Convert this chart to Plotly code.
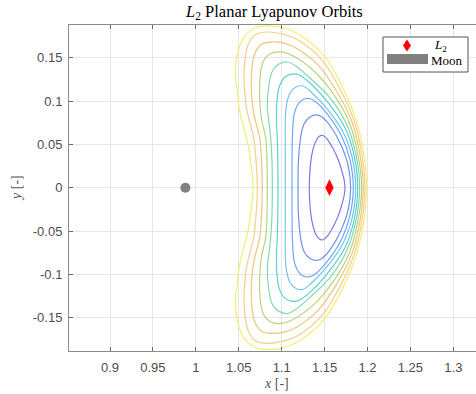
import plotly.graph_objects as go

# ---------------- data (upper halves, from right crossing over the top to left crossing) ----------
orbit1_x = [1.1738, 1.1728, 1.1700, 1.1656, 1.1600, 1.1535, 1.1482, 1.1435, 1.1395, 1.1362, 1.1338,
            1.1326, 1.1322]
orbit1_y = [0.0, 0.0090, 0.0200, 0.0331, 0.0450, 0.0555, 0.0602, 0.0590, 0.0530, 0.0430, 0.0290,
            0.0140, 0.0]

orbit2_x = [1.1804, 1.1773, 1.1691, 1.1575, 1.1470, 1.1400, 1.1330, 1.1260, 1.1220, 1.1196, 1.1190]
orbit2_y = [0.0, 0.0262, 0.0493, 0.0700, 0.0816, 0.0839, 0.0816, 0.0735, 0.0573, 0.0320, 0.0]

orbit3_x = [1.1835, 1.1796, 1.1703, 1.1540, 1.1400, 1.1319, 1.1237, 1.1179, 1.1144, 1.1126, 1.1121, 1.1121]
orbit3_y = [0.0, 0.0320, 0.0585, 0.0839, 0.0989, 0.1029, 0.1012, 0.0943, 0.0839, 0.0608, 0.0320, 0.0]

orbit4_x = [1.1863, 1.1820, 1.1715, 1.1540, 1.1354, 1.1249, 1.1167, 1.1097, 1.1056, 1.1042, 1.1042, 1.1042]
orbit4_y = [0.0, 0.0354, 0.0643, 0.0897, 0.1093, 0.1173, 0.1162, 0.1093, 0.0954, 0.0781, 0.0435, 0.0]

orbit5_x = [1.1886, 1.1843, 1.1738, 1.1552, 1.1354, 1.1202, 1.1132, 1.1039, 1.0975, 1.0946, 1.0940,
            1.0949, 1.0955, 1.0957]
orbit5_y = [0.0, 0.0377, 0.0689, 0.0966, 0.1185, 0.1300, 0.1312, 0.1277, 0.1173, 0.1012, 0.0804,
            0.0550, 0.0320, 0.0]

orbit6_x = [1.1909, 1.1866, 1.1761, 1.1575, 1.1354, 1.1179, 1.1074, 1.0969, 1.0887, 1.0847, 1.0833,
            1.0849, 1.0872, 1.0887, 1.0891]
orbit6_y = [0.0, 0.0377, 0.0723, 0.1023, 0.1243, 0.1393, 0.1450, 0.1427, 0.1335, 0.1150, 0.0920,
            0.0781, 0.0573, 0.0320, 0.0]

orbit7_x = [1.1933, 1.1889, 1.1790, 1.1610, 1.1388, 1.1155, 1.0992, 1.0864, 1.0783, 1.0748, 1.0744,
            1.0763, 1.0814, 1.0829, 1.0833]
orbit7_y = [0.0, 0.0377, 0.0747, 0.1070, 0.1335, 0.1508, 0.1566, 0.1543, 0.1450, 0.1266, 0.1035,
            0.0804, 0.0573, 0.0320, 0.0]

orbit8_x = [1.1951, 1.1913, 1.1820, 1.1645, 1.1423, 1.1167, 1.1016, 1.0887, 1.0771, 1.0689, 1.0654,
            1.0646, 1.0660, 1.0686, 1.0744, 1.0765, 1.0774]
orbit8_y = [0.0, 0.0377, 0.0758, 0.1104, 0.1416, 0.1612, 0.1670, 0.1681, 0.1658, 0.1554, 0.1381,
            0.1150, 0.0954, 0.0804, 0.0573, 0.0320, 0.0]

orbit9_x = [1.1971, 1.1936, 1.1849, 1.1686, 1.1470, 1.1190, 1.1004, 1.0829, 1.0689, 1.0608, 1.0573,
            1.0561, 1.0573, 1.0590, 1.0616, 1.0674, 1.0701, 1.0716]
orbit9_y = [0.0, 0.0377, 0.0758, 0.1127, 0.1473, 0.1704, 0.1773, 0.1796, 0.1762, 0.1646, 0.1473,
            0.1266, 0.1070, 0.0920, 0.0804, 0.0573, 0.0320, 0.0]

orbit10_x = [1.1991, 1.1959, 1.1874, 1.1718, 1.1505, 1.1214, 1.1016, 1.0841, 1.0689, 1.0550, 1.0483,
             1.0460, 1.0480, 1.0509, 1.0550, 1.0608, 1.0643, 1.0666]
orbit10_y = [0.0, 0.0374, 0.0758, 0.1142, 0.1508, 0.1762, 0.1848, 0.1866, 0.1843, 0.1719, 0.1528,
             0.1335, 0.1127, 0.0897, 0.0723, 0.0493, 0.0262, 0.0]

orbit_colors = ['#7a78e8', '#7090f0', '#6ea8f4', '#74c4f0', '#5ccfd6',
                '#84d8b0', '#b6d67c', '#f0c47a', '#f6cd8c', '#f4ee6e']

moon_x = [0.98785]
moon_y = [0.0]
l2_x = [1.15568]
l2_y = [0.0]

x_ticks = [0.9, 0.95, 1.0, 1.05, 1.1, 1.15, 1.2, 1.25, 1.3]
x_tick_labels = ['0.9', '0.95', '1', '1.05', '1.1', '1.15', '1.2', '1.25', '1.3']
y_ticks = [-0.15, -0.1, -0.05, 0.0, 0.05, 0.1, 0.15]
y_tick_labels = ['-0.15', '-0.1', '-0.05', '0', '0.05', '0.1', '0.15']

x_range = [0.85223, 1.32642]
y_range = [-0.1884, 0.1877]

# ---------------- figure ----------------
fig = go.Figure()

orbits = [(orbit1_x, orbit1_y), (orbit2_x, orbit2_y), (orbit3_x, orbit3_y), (orbit4_x, orbit4_y),
          (orbit5_x, orbit5_y), (orbit6_x, orbit6_y), (orbit7_x, orbit7_y), (orbit8_x, orbit8_y),
          (orbit9_x, orbit9_y), (orbit10_x, orbit10_y)]

for (ux, uy), col in zip(orbits, orbit_colors):
    # mirror about y = 0 (planar Lyapunov orbits are symmetric)
    xs = list(ux) + list(ux[::-1][1:])
    ys = list(uy) + [-v for v in uy[::-1][1:]]
    fig.add_trace(go.Scatter(x=xs, y=ys, mode='lines',
                             line=dict(color=col, width=1.2, shape='spline', smoothing=1.0),
                             showlegend=False, hoverinfo='skip'))

fig.add_trace(go.Scatter(x=moon_x, y=moon_y, mode='markers',
                         marker=dict(color='#808080', size=10, symbol='circle'),
                         showlegend=False))
fig.add_trace(go.Scatter(x=l2_x, y=l2_y, mode='markers',
                         marker=dict(color='#ff0000', size=12, symbol='diamond-tall'),
                         showlegend=False))

axis_common = dict(showgrid=True, gridcolor='#e6e6e6', gridwidth=1, zeroline=False,
                   showline=True, linecolor='#8a8a8a', linewidth=1,
                   ticks='inside', ticklen=4, tickcolor='#6a6a6a',
                   tickfont=dict(family='Liberation Sans, Arial, sans-serif', size=13, color='#4d4d4d'))

fig.update_xaxes(range=x_range, tickvals=x_ticks, ticktext=x_tick_labels,
                 mirror='ticks', ticklabelstandoff=4, **axis_common)
fig.update_yaxes(range=y_range, tickvals=y_ticks, ticktext=y_tick_labels,
                 mirror=False, ticklabelstandoff=3, **axis_common)

W, H = 476, 394
ml, mr, mt, mb = 69, 0, 25, 43
pw, ph = W - ml - mr, H - mt - mb


def px(xp):
    return (xp - ml) / pw


def py(yp):
    return (H - mb - yp) / ph


serif = 'Liberation Serif, DejaVu Serif, serif'

annotations = [
    dict(text='<i>L</i><sub>2</sub> Planar Lyapunov Orbits', xref='paper', yref='paper',
         x=px(274), y=py(12), xanchor='center', yanchor='middle', showarrow=False,
         font=dict(family=serif, size=16.5, color='#000000')),
    dict(text='<i>x</i> [-]', xref='paper', yref='paper', x=px(276), y=py(383),
         xanchor='center', yanchor='middle', showarrow=False,
         font=dict(family=serif, size=14, color='#555555')),
    dict(text='<i>y</i> [-]', xref='paper', yref='paper', x=px(16), y=py(188),
         xanchor='center', yanchor='middle', showarrow=False, textangle=-90,
         font=dict(family=serif, size=14, color='#555555')),
    dict(text='<i>L</i><sub>2</sub>', xref='paper', yref='paper', x=px(432), y=py(46),
         xanchor='left', yanchor='middle', showarrow=False,
         font=dict(family=serif, size=13, color='#000000')),
    dict(text='Moon', xref='paper', yref='paper', x=px(429), y=py(60),
         xanchor='left', yanchor='middle', showarrow=False,
         font=dict(family=serif, size=13, color='#000000')),
]

shapes = [
    # legend box
    dict(type='rect', xref='paper', yref='paper', x0=px(383), x1=px(468), y0=py(37), y1=py(72),
         fillcolor='#ffffff', line=dict(color='#555555', width=1), layer='above'),
    # moon swatch
    dict(type='rect', xref='paper', yref='paper', x0=px(387), x1=px(428), y0=py(54), y1=py(64),
         fillcolor='#808080', line=dict(width=0), layer='above'),
    # L2 diamond swatch
    dict(type='path', xref='paper', yref='paper', xsizemode='pixel', ysizemode='pixel',
         xanchor=px(407), yanchor=py(45.5), path='M 0 6 L 4 0 L 0 -6 L -4 0 Z',
         fillcolor='#ff0000', line=dict(width=0), layer='above'),
]

fig.update_layout(width=W, height=H, margin=dict(l=ml, r=mr, t=mt, b=mb),
                  paper_bgcolor='#ffffff', plot_bgcolor='#ffffff',
                  showlegend=False, annotations=annotations, shapes=shapes)

fig.write_html('out.html', config={'displayModeBar': False},
               post_script="document.body.style.margin='0';document.body.style.padding='0';")
